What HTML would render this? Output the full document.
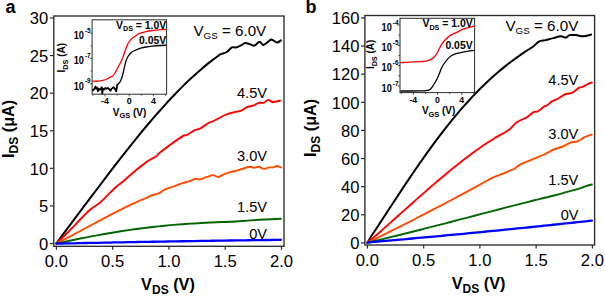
<!DOCTYPE html><html><head><meta charset="utf-8"><style>html,body{margin:0;padding:0;background:#fff;overflow:hidden}svg{display:block}text{font-family:"Liberation Sans", sans-serif;fill:#000}</style></head><body>
<svg width="605" height="296" viewBox="0 0 605 296">
<rect width="605" height="296" fill="#fff"/>
<rect x="53.8" y="16.0" width="230.2" height="230.3" fill="none" stroke="#2a2a2a" stroke-width="1.35"/>
<line x1="49.9" y1="243.5" x2="53.8" y2="243.5" stroke="#2a2a2a" stroke-width="1.2"/>
<text x="48.3" y="249.8" font-size="16.6" text-anchor="end" font-weight="normal" >0</text>
<line x1="49.9" y1="205.915" x2="53.8" y2="205.915" stroke="#2a2a2a" stroke-width="1.2"/>
<text x="48.3" y="212.215" font-size="16.6" text-anchor="end" font-weight="normal" >5</text>
<line x1="49.9" y1="168.32999999999998" x2="53.8" y2="168.32999999999998" stroke="#2a2a2a" stroke-width="1.2"/>
<text x="48.3" y="174.63" font-size="16.6" text-anchor="end" font-weight="normal" >10</text>
<line x1="49.9" y1="130.745" x2="53.8" y2="130.745" stroke="#2a2a2a" stroke-width="1.2"/>
<text x="48.3" y="137.04500000000002" font-size="16.6" text-anchor="end" font-weight="normal" >15</text>
<line x1="49.9" y1="93.16" x2="53.8" y2="93.16" stroke="#2a2a2a" stroke-width="1.2"/>
<text x="48.3" y="99.46" font-size="16.6" text-anchor="end" font-weight="normal" >20</text>
<line x1="49.9" y1="55.57499999999999" x2="53.8" y2="55.57499999999999" stroke="#2a2a2a" stroke-width="1.2"/>
<text x="48.3" y="61.874999999999986" font-size="16.6" text-anchor="end" font-weight="normal" >25</text>
<line x1="49.9" y1="17.98999999999998" x2="53.8" y2="17.98999999999998" stroke="#2a2a2a" stroke-width="1.2"/>
<text x="48.3" y="24.28999999999998" font-size="16.6" text-anchor="end" font-weight="normal" >30</text>
<line x1="56.4" y1="246.3" x2="56.4" y2="249.8" stroke="#2a2a2a" stroke-width="1.2"/>
<text x="56.4" y="266.6" font-size="16.6" text-anchor="middle" font-weight="normal" >0.0</text>
<line x1="112.6625" y1="246.3" x2="112.6625" y2="249.8" stroke="#2a2a2a" stroke-width="1.2"/>
<text x="112.6625" y="266.6" font-size="16.6" text-anchor="middle" font-weight="normal" >0.5</text>
<line x1="168.925" y1="246.3" x2="168.925" y2="249.8" stroke="#2a2a2a" stroke-width="1.2"/>
<text x="168.925" y="266.6" font-size="16.6" text-anchor="middle" font-weight="normal" >1.0</text>
<line x1="225.18750000000003" y1="246.3" x2="225.18750000000003" y2="249.8" stroke="#2a2a2a" stroke-width="1.2"/>
<text x="225.18750000000003" y="266.6" font-size="16.6" text-anchor="middle" font-weight="normal" >1.5</text>
<line x1="281.45" y1="246.3" x2="281.45" y2="249.8" stroke="#2a2a2a" stroke-width="1.2"/>
<text x="281.45" y="266.6" font-size="16.6" text-anchor="middle" font-weight="normal" >2.0</text>
<text x="168" y="290" font-size="16.3" font-weight="bold" text-anchor="middle">V<tspan font-size="12" dy="3.6">DS</tspan><tspan dy="-3.6"> (V)</tspan></text>
<text transform="translate(13.75,158) rotate(-90)" font-size="16.3" font-weight="bold" text-anchor="start">I<tspan font-size="12" dy="4.3">DS</tspan><tspan dy="-4.3"> (μA)</tspan></text>
<text x="5.6" y="13.4" font-size="18" text-anchor="start" font-weight="bold" >a</text>
<path d="M56.40,243.50 C57.40,242.11 60.40,237.87 62.40,235.15 C64.40,232.44 66.40,229.85 68.40,227.19 C70.40,224.53 72.40,221.87 74.40,219.20 C76.40,216.53 78.40,213.86 80.40,211.19 C82.40,208.53 84.40,205.86 86.40,203.19 C88.40,200.52 90.40,197.86 92.40,195.20 C94.40,192.54 96.40,189.88 98.40,187.24 C100.40,184.59 102.40,181.95 104.40,179.32 C106.40,176.69 108.40,174.06 110.40,171.45 C112.40,168.84 114.40,166.24 116.40,163.66 C118.40,161.08 120.40,158.51 122.40,155.95 C124.40,153.40 126.40,150.86 128.40,148.34 C130.40,145.83 132.40,143.33 134.40,140.85 C136.40,138.37 138.40,135.91 140.40,133.48 C142.40,131.05 144.40,128.64 146.40,126.26 C148.40,123.87 150.40,121.51 152.40,119.18 C154.40,116.86 156.40,114.55 158.40,112.28 C160.40,110.01 162.40,107.77 164.40,105.57 C166.40,103.36 168.40,101.18 170.40,99.05 C172.40,96.91 174.40,94.80 176.40,92.74 C178.40,90.67 180.40,88.65 182.40,86.66 C184.40,84.67 186.40,82.72 188.40,80.82 C190.40,78.91 192.40,77.05 194.40,75.23 C196.40,73.41 198.40,71.64 200.40,69.91 C202.40,68.19 204.40,66.51 206.40,64.88 C208.40,63.25 210.40,61.67 212.40,60.14 C214.40,58.61 217.02,56.72 218.40,55.72 C219.78,54.71 219.30,54.72 220.70,54.10 C222.10,53.48 224.93,53.12 226.80,52.00 C228.67,50.88 230.38,48.17 231.90,47.40 C233.42,46.63 234.45,47.70 235.90,47.40 C237.35,47.10 239.05,46.32 240.60,45.60 C242.15,44.88 243.67,43.35 245.20,43.10 C246.73,42.85 248.28,43.68 249.80,44.10 C251.32,44.52 252.67,45.98 254.30,45.60 C255.93,45.22 258.08,41.92 259.60,41.80 C261.12,41.68 261.62,45.20 263.40,44.90 C265.18,44.60 268.77,40.82 270.30,40.00 C271.83,39.18 271.47,39.57 272.60,40.00 C273.73,40.43 275.72,42.55 277.10,42.60 C278.48,42.65 280.27,40.68 280.90,40.30" fill="none" stroke="#000000" stroke-width="2.0" stroke-linejoin="round" stroke-linecap="round"/>
<path d="M56.40,243.50 C58.37,241.58 62.87,237.37 68.20,232.00 C73.53,226.63 83.10,216.18 88.40,211.30 C93.70,206.42 96.67,205.52 100.00,202.70 C103.33,199.88 105.53,197.18 108.40,194.40 C111.27,191.62 115.18,187.80 117.20,186.00 C119.22,184.20 117.28,186.30 120.50,183.60 C123.72,180.90 132.42,173.18 136.50,169.80 C140.58,166.42 142.95,164.85 145.00,163.30 C147.05,161.75 146.83,161.72 148.80,160.50 C150.77,159.28 154.93,157.33 156.80,156.00 C158.67,154.67 155.75,155.77 160.00,152.50 C164.25,149.23 177.88,139.28 182.30,136.40 C186.72,133.52 184.48,136.20 186.50,135.20 C188.52,134.20 192.07,131.55 194.40,130.40 C196.73,129.25 198.02,129.62 200.50,128.30 C202.98,126.98 207.35,123.62 209.30,122.50 C211.25,121.38 209.35,122.93 212.20,121.60 C215.05,120.27 222.68,116.08 226.40,114.50 C230.12,112.92 232.13,112.70 234.50,112.10 C236.87,111.50 238.58,111.68 240.60,110.90 C242.62,110.12 244.40,108.32 246.60,107.40 C248.80,106.48 251.77,106.17 253.80,105.40 C255.83,104.63 257.12,103.23 258.80,102.80 C260.48,102.37 262.37,103.28 263.90,102.80 C265.43,102.32 266.48,100.03 268.00,99.90 C269.52,99.77 270.98,101.87 273.00,102.00 C275.02,102.13 278.92,100.92 280.10,100.70" fill="none" stroke="#ff0000" stroke-width="1.9" stroke-linejoin="round" stroke-linecap="round"/>
<path d="M56.40,243.50 C57.40,243.00 60.40,241.50 62.40,240.48 C64.40,239.46 66.40,238.42 68.40,237.38 C70.40,236.33 72.40,235.27 74.40,234.21 C76.40,233.15 78.40,232.08 80.40,231.01 C82.40,229.93 84.40,228.85 86.40,227.77 C88.40,226.70 90.40,225.61 92.40,224.53 C94.40,223.46 96.40,222.38 98.40,221.30 C100.40,220.23 102.40,219.16 104.40,218.10 C106.40,217.04 108.40,215.98 110.40,214.94 C112.40,213.89 114.40,212.86 116.40,211.84 C118.40,210.82 120.40,209.81 122.40,208.82 C124.40,207.82 126.40,206.85 128.40,205.89 C130.40,204.93 132.40,203.99 134.40,203.08 C136.40,202.16 138.40,201.26 140.40,200.39 C142.40,199.52 145.12,198.39 146.40,197.86 C147.68,197.32 147.47,197.49 148.10,197.17 C148.73,196.84 148.37,196.56 150.20,195.90 C152.03,195.24 156.60,194.28 159.10,193.20 C161.60,192.12 162.67,190.58 165.20,189.40 C167.73,188.22 171.52,187.10 174.30,186.10 C177.08,185.10 179.37,184.23 181.90,183.40 C184.43,182.57 187.22,181.87 189.50,181.10 C191.78,180.33 193.82,179.08 195.60,178.80 C197.38,178.52 198.55,179.65 200.20,179.40 C201.85,179.15 204.18,177.77 205.50,177.30 C206.82,176.83 206.82,176.97 208.10,176.60 C209.38,176.23 211.50,175.03 213.20,175.10 C214.90,175.17 216.45,177.17 218.30,177.00 C220.15,176.83 222.28,174.92 224.30,174.10 C226.32,173.28 228.03,172.77 230.40,172.10 C232.77,171.43 235.28,170.98 238.50,170.10 C241.72,169.22 247.15,167.18 249.70,166.80 C252.25,166.42 252.28,167.80 253.80,167.80 C255.32,167.80 257.12,166.62 258.80,166.80 C260.48,166.98 262.20,168.80 263.90,168.90 C265.60,169.00 267.48,167.65 269.00,167.40 C270.52,167.15 271.65,167.63 273.00,167.40 C274.35,167.17 275.75,166.00 277.10,166.00 C278.45,166.00 280.43,167.17 281.10,167.40" fill="none" stroke="#ff4c00" stroke-width="1.9" stroke-linejoin="round" stroke-linecap="round"/>
<path d="M56.40,243.50 C57.40,243.31 60.40,242.74 62.40,242.33 C64.40,241.92 66.40,241.46 68.40,241.03 C70.40,240.60 72.40,240.18 74.40,239.76 C76.40,239.35 78.40,238.94 80.40,238.53 C82.40,238.13 84.40,237.73 86.40,237.34 C88.40,236.95 90.40,236.56 92.40,236.19 C94.40,235.81 96.40,235.44 98.40,235.07 C100.40,234.71 102.40,234.35 104.40,234.00 C106.40,233.64 108.40,233.30 110.40,232.96 C112.40,232.63 114.40,232.30 116.40,231.97 C118.40,231.65 120.40,231.33 122.40,231.03 C124.40,230.72 126.40,230.42 128.40,230.12 C130.40,229.83 132.40,229.55 134.40,229.27 C136.40,228.99 138.40,228.72 140.40,228.46 C142.40,228.20 144.40,227.94 146.40,227.70 C148.40,227.45 150.40,227.21 152.40,226.98 C154.40,226.75 156.40,226.53 158.40,226.32 C160.40,226.11 162.40,225.90 164.40,225.71 C166.40,225.51 168.40,225.33 170.40,225.15 C172.40,224.97 174.40,224.80 176.40,224.64 C178.40,224.48 180.40,224.33 182.40,224.19 C184.40,224.04 186.40,223.91 188.40,223.79 C190.40,223.66 193.02,223.52 194.40,223.44 C195.78,223.37 193.10,223.54 196.70,223.33 C200.30,223.12 210.42,222.45 216.00,222.20 C221.58,221.95 224.45,222.10 230.20,221.80 C235.95,221.50 244.70,220.78 250.50,220.40 C256.30,220.02 259.93,219.77 265.00,219.50 C270.07,219.23 278.25,218.92 280.90,218.80" fill="none" stroke="#006400" stroke-width="1.9" stroke-linejoin="round" stroke-linecap="round"/>
<path d="M56.40,243.50 C57.40,243.51 60.40,243.56 62.40,243.54 C64.40,243.53 66.40,243.45 68.40,243.41 C70.40,243.37 72.40,243.32 74.40,243.28 C76.40,243.24 78.40,243.19 80.40,243.15 C82.40,243.11 84.40,243.07 86.40,243.02 C88.40,242.98 90.40,242.94 92.40,242.90 C94.40,242.86 96.40,242.82 98.40,242.78 C100.40,242.73 102.40,242.69 104.40,242.65 C106.40,242.61 108.40,242.57 110.40,242.53 C112.40,242.49 114.40,242.45 116.40,242.41 C118.40,242.38 120.40,242.34 122.40,242.30 C124.40,242.26 126.40,242.22 128.40,242.18 C130.40,242.15 132.40,242.11 134.40,242.07 C136.40,242.03 138.40,242.00 140.40,241.96 C142.40,241.92 144.40,241.89 146.40,241.85 C148.40,241.81 150.40,241.78 152.40,241.74 C154.40,241.71 156.40,241.67 158.40,241.63 C160.40,241.60 162.40,241.56 164.40,241.53 C166.40,241.50 168.40,241.46 170.40,241.43 C172.40,241.39 174.40,241.36 176.40,241.33 C178.40,241.29 180.40,241.26 182.40,241.23 C184.40,241.19 186.40,241.16 188.40,241.13 C190.40,241.10 192.40,241.07 194.40,241.03 C196.40,241.00 198.40,240.97 200.40,240.94 C202.40,240.91 204.40,240.88 206.40,240.85 C208.40,240.82 210.40,240.79 212.40,240.76 C214.40,240.73 216.40,240.70 218.40,240.67 C220.40,240.64 222.40,240.61 224.40,240.58 C226.40,240.55 228.40,240.52 230.40,240.50 C232.40,240.47 234.40,240.44 236.40,240.41 C238.40,240.39 240.40,240.36 242.40,240.33 C244.40,240.30 246.40,240.28 248.40,240.25 C250.40,240.23 252.40,240.20 254.40,240.17 C256.40,240.15 258.40,240.12 260.40,240.10 C262.40,240.07 264.40,240.05 266.40,240.02 C268.40,240.00 270.40,239.97 272.40,239.95 C274.40,239.92 276.98,239.89 278.40,239.88 C279.82,239.86 280.48,239.85 280.90,239.85" fill="none" stroke="#0000ff" stroke-width="2.3" stroke-linejoin="round" stroke-linecap="round"/>
<text x="267" y="98" font-size="14.6" text-anchor="end">4.5V</text>
<text x="267" y="161.1" font-size="14.6" text-anchor="end">3.0V</text>
<text x="267" y="211.8" font-size="14.6" text-anchor="end">1.5V</text>
<text x="267" y="239" font-size="14.6" text-anchor="end">0V</text>
<rect x="364.9" y="15.5" width="229.70000000000005" height="229.5" fill="none" stroke="#2a2a2a" stroke-width="1.35"/>
<line x1="361.0" y1="242.9" x2="364.9" y2="242.9" stroke="#2a2a2a" stroke-width="1.2"/>
<text x="359.4" y="249.20000000000002" font-size="16.6" text-anchor="end" font-weight="normal" >0</text>
<line x1="361.0" y1="214.78" x2="364.9" y2="214.78" stroke="#2a2a2a" stroke-width="1.2"/>
<text x="359.4" y="221.08" font-size="16.6" text-anchor="end" font-weight="normal" >20</text>
<line x1="361.0" y1="186.66000000000003" x2="364.9" y2="186.66000000000003" stroke="#2a2a2a" stroke-width="1.2"/>
<text x="359.4" y="192.96000000000004" font-size="16.6" text-anchor="end" font-weight="normal" >40</text>
<line x1="361.0" y1="158.54000000000002" x2="364.9" y2="158.54000000000002" stroke="#2a2a2a" stroke-width="1.2"/>
<text x="359.4" y="164.84000000000003" font-size="16.6" text-anchor="end" font-weight="normal" >60</text>
<line x1="361.0" y1="130.42000000000002" x2="364.9" y2="130.42000000000002" stroke="#2a2a2a" stroke-width="1.2"/>
<text x="359.4" y="136.72000000000003" font-size="16.6" text-anchor="end" font-weight="normal" >80</text>
<line x1="361.0" y1="102.30000000000001" x2="364.9" y2="102.30000000000001" stroke="#2a2a2a" stroke-width="1.2"/>
<text x="359.4" y="108.60000000000001" font-size="16.6" text-anchor="end" font-weight="normal" >100</text>
<line x1="361.0" y1="74.18" x2="364.9" y2="74.18" stroke="#2a2a2a" stroke-width="1.2"/>
<text x="359.4" y="80.48" font-size="16.6" text-anchor="end" font-weight="normal" >120</text>
<line x1="361.0" y1="46.06000000000003" x2="364.9" y2="46.06000000000003" stroke="#2a2a2a" stroke-width="1.2"/>
<text x="359.4" y="52.36000000000003" font-size="16.6" text-anchor="end" font-weight="normal" >140</text>
<line x1="361.0" y1="17.940000000000026" x2="364.9" y2="17.940000000000026" stroke="#2a2a2a" stroke-width="1.2"/>
<text x="359.4" y="24.240000000000027" font-size="16.6" text-anchor="end" font-weight="normal" >160</text>
<line x1="367.4" y1="245.0" x2="367.4" y2="248.5" stroke="#2a2a2a" stroke-width="1.2"/>
<text x="367.4" y="266.4" font-size="16.6" text-anchor="middle" font-weight="normal" >0.0</text>
<line x1="423.65" y1="245.0" x2="423.65" y2="248.5" stroke="#2a2a2a" stroke-width="1.2"/>
<text x="423.65" y="266.4" font-size="16.6" text-anchor="middle" font-weight="normal" >0.5</text>
<line x1="479.9" y1="245.0" x2="479.9" y2="248.5" stroke="#2a2a2a" stroke-width="1.2"/>
<text x="479.9" y="266.4" font-size="16.6" text-anchor="middle" font-weight="normal" >1.0</text>
<line x1="536.15" y1="245.0" x2="536.15" y2="248.5" stroke="#2a2a2a" stroke-width="1.2"/>
<text x="536.15" y="266.4" font-size="16.6" text-anchor="middle" font-weight="normal" >1.5</text>
<line x1="592.4" y1="245.0" x2="592.4" y2="248.5" stroke="#2a2a2a" stroke-width="1.2"/>
<text x="592.4" y="266.4" font-size="16.6" text-anchor="middle" font-weight="normal" >2.0</text>
<text x="478.6" y="289" font-size="16.3" font-weight="bold" text-anchor="middle">V<tspan font-size="12" dy="3.6">DS</tspan><tspan dy="-3.6"> (V)</tspan></text>
<text transform="translate(315.75,157) rotate(-90)" font-size="16.3" font-weight="bold" text-anchor="start">I<tspan font-size="12" dy="4.3">DS</tspan><tspan dy="-4.3"> (μA)</tspan></text>
<text x="305.6" y="13.3" font-size="18" text-anchor="start" font-weight="bold" >b</text>
<path d="M367.40,242.60 C368.40,241.01 371.40,236.18 373.40,233.06 C375.40,229.95 377.40,226.96 379.40,223.90 C381.40,220.84 383.40,217.76 385.40,214.70 C387.40,211.64 389.40,208.57 391.40,205.51 C393.40,202.46 395.40,199.40 397.40,196.37 C399.40,193.34 401.40,190.31 403.40,187.31 C405.40,184.30 407.40,181.31 409.40,178.35 C411.40,175.39 413.40,172.45 415.40,169.54 C417.40,166.63 419.40,163.74 421.40,160.89 C423.40,158.04 425.40,155.22 427.40,152.43 C429.40,149.65 431.40,146.89 433.40,144.18 C435.40,141.47 437.40,138.79 439.40,136.16 C441.40,133.53 443.40,130.94 445.40,128.39 C447.40,125.84 449.40,123.33 451.40,120.88 C453.40,118.42 455.40,116.00 457.40,113.64 C459.40,111.27 461.40,108.95 463.40,106.68 C465.40,104.41 467.40,102.18 469.40,100.01 C471.40,97.83 473.40,95.71 475.40,93.63 C477.40,91.56 479.40,89.53 481.40,87.55 C483.40,85.57 485.40,83.64 487.40,81.76 C489.40,79.88 491.40,78.05 493.40,76.27 C495.40,74.49 497.40,72.75 499.40,71.06 C501.40,69.38 503.40,67.74 505.40,66.14 C507.40,64.54 509.40,62.99 511.40,61.48 C513.40,59.97 515.40,58.51 517.40,57.08 C519.40,55.66 521.40,54.27 523.40,52.92 C525.40,51.58 527.82,50.01 529.40,48.99 C530.98,47.97 531.27,48.06 532.90,46.79 C534.53,45.53 537.08,42.52 539.20,41.40 C541.32,40.28 543.27,40.65 545.60,40.10 C547.93,39.55 550.67,38.73 553.20,38.10 C555.73,37.47 558.70,36.38 560.80,36.30 C562.90,36.22 564.33,37.80 565.80,37.60 C567.27,37.40 567.92,35.52 569.60,35.10 C571.28,34.68 573.58,34.90 575.90,35.10 C578.22,35.30 580.97,36.38 583.50,36.30 C586.03,36.22 589.83,34.88 591.10,34.60" fill="none" stroke="#000000" stroke-width="2.0" stroke-linejoin="round" stroke-linecap="round"/>
<path d="M367.40,242.60 C368.40,241.79 371.40,239.41 373.40,237.72 C375.40,236.03 377.40,234.22 379.40,232.47 C381.40,230.71 383.40,228.94 385.40,227.16 C387.40,225.39 389.40,223.61 391.40,221.83 C393.40,220.05 395.40,218.26 397.40,216.47 C399.40,214.69 401.40,212.90 403.40,211.11 C405.40,209.32 407.40,207.53 409.40,205.75 C411.40,203.97 413.40,202.18 415.40,200.41 C417.40,198.63 419.40,196.86 421.40,195.10 C423.40,193.34 425.40,191.59 427.40,189.84 C429.40,188.10 431.40,186.36 433.40,184.64 C435.40,182.92 437.40,181.21 439.40,179.51 C441.40,177.82 443.40,176.14 445.40,174.48 C447.40,172.81 449.40,171.16 451.40,169.54 C453.40,167.91 455.40,166.30 457.40,164.71 C459.40,163.13 461.40,161.56 463.40,160.02 C465.40,158.48 467.40,156.96 469.40,155.46 C471.40,153.97 473.40,152.50 475.40,151.06 C477.40,149.63 479.40,148.21 481.40,146.83 C483.40,145.46 485.40,144.10 487.40,142.79 C489.40,141.47 491.77,139.97 493.40,138.94 C495.03,137.91 495.22,137.73 497.20,136.60 C499.18,135.48 503.17,133.47 505.30,132.20 C507.43,130.93 508.08,130.67 510.00,129.00 C511.92,127.33 513.98,124.17 516.80,122.20 C519.62,120.23 524.10,118.88 526.90,117.20 C529.70,115.52 531.77,113.08 533.60,112.10 C535.43,111.12 536.20,112.20 537.90,111.30 C539.60,110.40 542.25,107.70 543.80,106.70 C545.35,105.70 545.80,106.23 547.20,105.30 C548.60,104.37 550.65,102.08 552.20,101.10 C553.75,100.12 554.38,100.52 556.50,99.40 C558.62,98.28 562.80,95.38 564.90,94.40 C567.00,93.42 567.70,93.87 569.10,93.50 C570.50,93.13 571.60,93.18 573.30,92.20 C575.00,91.22 577.75,88.50 579.30,87.60 C580.85,86.70 580.92,87.50 582.60,86.80 C584.28,86.10 587.83,84.10 589.40,83.40 C590.97,82.70 591.57,82.73 592.00,82.60" fill="none" stroke="#ff0000" stroke-width="1.9" stroke-linejoin="round" stroke-linecap="round"/>
<path d="M367.40,242.60 C368.40,242.15 371.40,240.83 373.40,239.88 C375.40,238.93 377.40,237.90 379.40,236.91 C381.40,235.91 383.40,234.92 385.40,233.92 C387.40,232.92 389.40,231.92 391.40,230.92 C393.40,229.92 395.40,228.91 397.40,227.90 C399.40,226.90 401.40,225.89 403.40,224.87 C405.40,223.86 407.40,222.84 409.40,221.82 C411.40,220.81 413.40,219.78 415.40,218.76 C417.40,217.74 419.40,216.71 421.40,215.68 C423.40,214.65 425.40,213.62 427.40,212.58 C429.40,211.54 431.40,210.50 433.40,209.46 C435.40,208.42 437.40,207.37 439.40,206.32 C441.40,205.28 443.40,204.22 445.40,203.17 C447.40,202.11 449.40,201.05 451.40,199.99 C453.40,198.93 455.40,197.86 457.40,196.79 C459.40,195.72 461.40,194.65 463.40,193.58 C465.40,192.50 467.40,191.42 469.40,190.33 C471.40,189.25 473.40,188.16 475.40,187.07 C477.40,185.98 479.40,184.88 481.40,183.78 C483.40,182.69 485.95,181.28 487.40,180.47 C488.85,179.67 488.63,179.69 490.10,178.98 C491.57,178.27 492.88,177.60 496.20,176.20 C499.52,174.80 506.95,171.83 510.00,170.60 C513.05,169.37 512.73,169.85 514.50,168.80 C516.27,167.75 517.22,166.05 520.60,164.30 C523.98,162.55 531.07,159.85 534.80,158.30 C538.53,156.75 540.47,156.13 543.00,155.00 C545.53,153.87 548.22,152.42 550.00,151.50 C551.78,150.58 551.57,150.33 553.70,149.50 C555.83,148.67 560.02,147.63 562.80,146.50 C565.58,145.37 567.87,143.58 570.40,142.70 C572.93,141.82 575.72,142.08 578.00,141.20 C580.28,140.32 581.82,138.50 584.10,137.40 C586.38,136.30 590.43,135.07 591.70,134.60" fill="none" stroke="#ff4c00" stroke-width="1.9" stroke-linejoin="round" stroke-linecap="round"/>
<path d="M367.40,242.60 C368.40,242.38 371.40,241.74 373.40,241.28 C375.40,240.82 377.40,240.33 379.40,239.86 C381.40,239.38 383.40,238.90 385.40,238.41 C387.40,237.93 389.40,237.44 391.40,236.95 C393.40,236.47 395.40,235.97 397.40,235.48 C399.40,234.99 401.40,234.49 403.40,233.99 C405.40,233.50 407.40,233.00 409.40,232.49 C411.40,231.99 413.40,231.49 415.40,230.98 C417.40,230.48 419.40,229.97 421.40,229.46 C423.40,228.95 425.40,228.44 427.40,227.93 C429.40,227.42 431.40,226.91 433.40,226.39 C435.40,225.88 437.40,225.36 439.40,224.85 C441.40,224.33 443.40,223.81 445.40,223.30 C447.40,222.78 449.40,222.26 451.40,221.74 C453.40,221.22 455.40,220.70 457.40,220.18 C459.40,219.66 461.40,219.14 463.40,218.61 C465.40,218.09 467.40,217.57 469.40,217.05 C471.40,216.53 473.40,216.01 475.40,215.48 C477.40,214.96 479.40,214.44 481.40,213.92 C483.40,213.40 485.40,212.88 487.40,212.36 C489.40,211.84 491.40,211.32 493.40,210.80 C495.40,210.28 497.40,209.76 499.40,209.24 C501.40,208.72 503.40,208.20 505.40,207.69 C507.40,207.17 509.40,206.66 511.40,206.14 C513.40,205.63 515.40,205.12 517.40,204.60 C519.40,204.09 521.40,203.58 523.40,203.07 C525.40,202.56 527.40,202.06 529.40,201.55 C531.40,201.05 533.60,200.49 535.40,200.04 C537.20,199.59 537.77,199.43 540.20,198.84 C542.63,198.25 546.62,197.34 550.00,196.50 C553.38,195.66 557.17,194.68 560.50,193.80 C563.83,192.92 566.63,192.15 570.00,191.20 C573.37,190.25 578.03,188.93 580.70,188.10 C583.37,187.27 584.13,186.80 586.00,186.20 C587.87,185.60 590.92,184.78 591.90,184.50" fill="none" stroke="#006400" stroke-width="1.9" stroke-linejoin="round" stroke-linecap="round"/>
<path d="M367.40,242.60 C368.40,242.48 371.40,242.10 373.40,241.90 C375.40,241.69 377.40,241.55 379.40,241.38 C381.40,241.21 383.40,241.04 385.40,240.87 C387.40,240.69 389.40,240.52 391.40,240.34 C393.40,240.17 395.40,240.00 397.40,239.82 C399.40,239.64 401.40,239.47 403.40,239.29 C405.40,239.11 407.40,238.94 409.40,238.76 C411.40,238.58 413.40,238.40 415.40,238.22 C417.40,238.04 419.40,237.86 421.40,237.68 C423.40,237.50 425.40,237.32 427.40,237.13 C429.40,236.95 431.40,236.77 433.40,236.59 C435.40,236.40 437.40,236.22 439.40,236.03 C441.40,235.85 443.40,235.66 445.40,235.47 C447.40,235.29 449.40,235.10 451.40,234.91 C453.40,234.73 455.40,234.54 457.40,234.35 C459.40,234.16 461.40,233.97 463.40,233.78 C465.40,233.59 467.40,233.40 469.40,233.20 C471.40,233.01 473.40,232.82 475.40,232.63 C477.40,232.43 479.40,232.24 481.40,232.04 C483.40,231.85 485.40,231.65 487.40,231.46 C489.40,231.26 491.40,231.07 493.40,230.87 C495.40,230.67 497.40,230.47 499.40,230.27 C501.40,230.08 503.40,229.88 505.40,229.68 C507.40,229.48 509.40,229.28 511.40,229.07 C513.40,228.87 515.40,228.67 517.40,228.47 C519.40,228.27 521.40,228.06 523.40,227.86 C525.40,227.65 527.40,227.45 529.40,227.24 C531.40,227.04 533.40,226.83 535.40,226.62 C537.40,226.42 539.40,226.21 541.40,226.00 C543.40,225.79 545.40,225.59 547.40,225.38 C549.40,225.17 551.40,224.96 553.40,224.75 C555.40,224.53 557.40,224.32 559.40,224.11 C561.40,223.90 563.40,223.69 565.40,223.47 C567.40,223.26 569.40,223.04 571.40,222.83 C573.40,222.61 575.40,222.40 577.40,222.18 C579.40,221.97 581.40,221.75 583.40,221.53 C585.40,221.31 587.98,221.03 589.40,220.88 C590.82,220.72 591.48,220.65 591.90,220.60" fill="none" stroke="#0000ff" stroke-width="2.3" stroke-linejoin="round" stroke-linecap="round"/>
<text x="578.3" y="85.2" font-size="14.6" text-anchor="end">4.5V</text>
<text x="578.3" y="138.9" font-size="14.6" text-anchor="end">3.0V</text>
<text x="578.3" y="184.8" font-size="14.6" text-anchor="end">1.5V</text>
<text x="578.5" y="219.5" font-size="14.6" text-anchor="end">0V</text>
<text x="193.4" y="36.2" font-size="15.2">V<tspan font-size="9.8" dy="2.4">GS</tspan><tspan dy="-2.4"> = 6.0V</tspan></text>
<text x="578.3" y="31.25" font-size="15.2" text-anchor="end">V<tspan font-size="9.8" dy="2.4">GS</tspan><tspan dy="-2.4"> = 6.0V</tspan></text>
<rect x="92.1" y="19.8" width="74.5" height="74.4" fill="#fff" stroke="#2a2a2a" stroke-width="1"/>
<line x1="89.89999999999999" y1="33.1" x2="92.1" y2="33.1" stroke="#2a2a2a" stroke-width="0.8"/>
<text transform="translate(83.89999999999999,38.9) scale(0.87,1)" font-size="10.6" font-weight="bold" text-anchor="end">10</text>
<text x="84.89999999999999" y="32.7" font-size="6.4" font-weight="bold" text-anchor="start">-5</text>
<line x1="89.89999999999999" y1="58.4" x2="92.1" y2="58.4" stroke="#2a2a2a" stroke-width="0.8"/>
<text transform="translate(83.89999999999999,64.2) scale(0.87,1)" font-size="10.6" font-weight="bold" text-anchor="end">10</text>
<text x="84.89999999999999" y="58.0" font-size="6.4" font-weight="bold" text-anchor="start">-7</text>
<line x1="89.89999999999999" y1="83.75" x2="92.1" y2="83.75" stroke="#2a2a2a" stroke-width="0.8"/>
<text transform="translate(83.89999999999999,89.55) scale(0.87,1)" font-size="10.6" font-weight="bold" text-anchor="end">10</text>
<text x="84.89999999999999" y="83.35" font-size="6.4" font-weight="bold" text-anchor="start">-9</text>
<line x1="90.6" y1="45.75" x2="92.1" y2="45.75" stroke="#2a2a2a" stroke-width="0.8"/>
<line x1="90.6" y1="71.1" x2="92.1" y2="71.1" stroke="#2a2a2a" stroke-width="0.8"/>
<line x1="92.89999999999999" y1="94.2" x2="92.89999999999999" y2="95.7" stroke="#2a2a2a" stroke-width="0.8"/>
<line x1="104.99999999999999" y1="94.2" x2="104.99999999999999" y2="96.4" stroke="#2a2a2a" stroke-width="0.8"/>
<text x="104.99999999999999" y="104.2" font-size="8.8" font-weight="bold" text-anchor="middle">-4</text>
<line x1="117.1" y1="94.2" x2="117.1" y2="95.7" stroke="#2a2a2a" stroke-width="0.8"/>
<line x1="129.2" y1="94.2" x2="129.2" y2="96.4" stroke="#2a2a2a" stroke-width="0.8"/>
<text x="129.2" y="104.2" font-size="8.8" font-weight="bold" text-anchor="middle">0</text>
<line x1="141.29999999999998" y1="94.2" x2="141.29999999999998" y2="95.7" stroke="#2a2a2a" stroke-width="0.8"/>
<line x1="153.39999999999998" y1="94.2" x2="153.39999999999998" y2="96.4" stroke="#2a2a2a" stroke-width="0.8"/>
<text x="153.39999999999998" y="104.2" font-size="8.8" font-weight="bold" text-anchor="middle">4</text>
<line x1="165.5" y1="94.2" x2="165.5" y2="95.7" stroke="#2a2a2a" stroke-width="0.8"/>
<text x="112.8" y="116.0" font-size="10.0" font-weight="bold" text-anchor="start">V<tspan font-size="7.4" dy="2.4">GS</tspan><tspan dy="-2.4"> (V)</tspan></text>
<text transform="translate(64.8,57.7) rotate(-90)" font-size="10" font-weight="bold" text-anchor="middle">I<tspan font-size="7.2" dy="3.3">DS</tspan><tspan dy="-3.3"> (A)</tspan></text>
<path d="M92.60,81.10 C93.50,81.12 96.27,81.33 98.00,81.20 C99.73,81.07 101.50,80.67 103.00,80.30 C104.50,79.93 105.83,79.50 107.00,79.00 C108.17,78.50 109.12,77.77 110.00,77.30 C110.88,76.83 111.52,76.83 112.30,76.20 C113.08,75.57 113.95,74.58 114.70,73.50 C115.45,72.42 116.00,71.20 116.80,69.70 C117.60,68.20 118.52,66.47 119.50,64.50 C120.48,62.53 121.87,59.90 122.70,57.90 C123.53,55.90 123.80,54.48 124.50,52.50 C125.20,50.52 126.15,47.75 126.90,46.00 C127.65,44.25 128.15,43.27 129.00,42.00 C129.85,40.73 130.83,39.48 132.00,38.40 C133.17,37.32 134.73,36.33 136.00,35.50 C137.27,34.67 137.93,34.05 139.60,33.40 C141.27,32.75 143.85,32.08 146.00,31.60 C148.15,31.12 150.33,30.80 152.50,30.50 C154.67,30.20 156.75,30.00 159.00,29.80 C161.25,29.60 164.83,29.38 166.00,29.30" fill="none" stroke="#ff0000" stroke-width="1.3" stroke-linejoin="round" stroke-linecap="round"/>
<polyline points="92.80,90.30 93.60,89.60 94.60,88.60 95.50,86.60 96.40,88.90 97.30,87.60 97.90,91.30 98.70,88.90 99.90,89.70 100.80,88.40 101.70,87.20 102.30,93.60 102.90,88.60 104.00,89.60 105.20,88.00 106.50,88.80 107.80,88.00 109.60,89.50 110.40,90.80 111.80,88.60 113.50,87.20 114.80,88.60 116.20,91.30 117.30,84.60" fill="none" stroke="#000000" stroke-width="1.8" stroke-linejoin="round" stroke-linecap="round"/>
<path d="M117.40,84.80 C117.90,84.23 119.55,82.95 120.40,81.40 C121.25,79.85 121.83,77.87 122.50,75.50 C123.17,73.13 123.82,69.62 124.40,67.20 C124.98,64.78 125.45,62.70 126.00,61.00 C126.55,59.30 127.03,58.20 127.70,57.00 C128.37,55.80 129.28,54.63 130.00,53.80 C130.72,52.97 131.00,52.63 132.00,52.00 C133.00,51.37 134.55,50.63 136.00,50.00 C137.45,49.37 139.03,48.70 140.70,48.20 C142.37,47.70 144.03,47.35 146.00,47.00 C147.97,46.65 150.33,46.35 152.50,46.10 C154.67,45.85 156.75,45.65 159.00,45.50 C161.25,45.35 164.83,45.25 166.00,45.20" fill="none" stroke="#000000" stroke-width="1.3" stroke-linejoin="round" stroke-linecap="round"/>
<text x="166.2" y="28.8" font-size="10.4" font-weight="bold" text-anchor="end">V<tspan font-size="7.2" dy="2.6">DS</tspan><tspan dy="-2.6"> = 1.0V</tspan></text>
<text x="166.2" y="43.8" font-size="10.4" font-weight="bold" text-anchor="end">0.05V</text>
<rect x="400.0" y="18.3" width="74.60000000000002" height="74.3" fill="#fff" stroke="#2a2a2a" stroke-width="1"/>
<line x1="397.8" y1="25.1" x2="400.0" y2="25.1" stroke="#2a2a2a" stroke-width="0.8"/>
<text transform="translate(391.8,30.900000000000002) scale(0.87,1)" font-size="10.6" font-weight="bold" text-anchor="end">10</text>
<text x="392.8" y="24.700000000000003" font-size="6.4" font-weight="bold" text-anchor="start">-4</text>
<line x1="397.8" y1="45.4" x2="400.0" y2="45.4" stroke="#2a2a2a" stroke-width="0.8"/>
<text transform="translate(391.8,51.199999999999996) scale(0.87,1)" font-size="10.6" font-weight="bold" text-anchor="end">10</text>
<text x="392.8" y="45.0" font-size="6.4" font-weight="bold" text-anchor="start">-5</text>
<line x1="397.8" y1="65.6" x2="400.0" y2="65.6" stroke="#2a2a2a" stroke-width="0.8"/>
<text transform="translate(391.8,71.39999999999999) scale(0.87,1)" font-size="10.6" font-weight="bold" text-anchor="end">10</text>
<text x="392.8" y="65.19999999999999" font-size="6.4" font-weight="bold" text-anchor="start">-6</text>
<line x1="397.8" y1="85.9" x2="400.0" y2="85.9" stroke="#2a2a2a" stroke-width="0.8"/>
<text transform="translate(391.8,91.7) scale(0.87,1)" font-size="10.6" font-weight="bold" text-anchor="end">10</text>
<text x="392.8" y="85.5" font-size="6.4" font-weight="bold" text-anchor="start">-7</text>
<line x1="398.5" y1="35.25" x2="400.0" y2="35.25" stroke="#2a2a2a" stroke-width="0.8"/>
<line x1="398.5" y1="55.5" x2="400.0" y2="55.5" stroke="#2a2a2a" stroke-width="0.8"/>
<line x1="398.5" y1="75.75" x2="400.0" y2="75.75" stroke="#2a2a2a" stroke-width="0.8"/>
<line x1="401.26" y1="92.6" x2="401.26" y2="94.1" stroke="#2a2a2a" stroke-width="0.8"/>
<line x1="413.36" y1="92.6" x2="413.36" y2="94.8" stroke="#2a2a2a" stroke-width="0.8"/>
<text x="413.36" y="102.6" font-size="8.8" font-weight="bold" text-anchor="middle">-4</text>
<line x1="425.46" y1="92.6" x2="425.46" y2="94.1" stroke="#2a2a2a" stroke-width="0.8"/>
<line x1="437.56" y1="92.6" x2="437.56" y2="94.8" stroke="#2a2a2a" stroke-width="0.8"/>
<text x="437.56" y="102.6" font-size="8.8" font-weight="bold" text-anchor="middle">0</text>
<line x1="449.66" y1="92.6" x2="449.66" y2="94.1" stroke="#2a2a2a" stroke-width="0.8"/>
<line x1="461.76" y1="92.6" x2="461.76" y2="94.8" stroke="#2a2a2a" stroke-width="0.8"/>
<text x="461.76" y="102.6" font-size="8.8" font-weight="bold" text-anchor="middle">4</text>
<line x1="473.86" y1="92.6" x2="473.86" y2="94.1" stroke="#2a2a2a" stroke-width="0.8"/>
<text x="421.9" y="114.4" font-size="10.0" font-weight="bold" text-anchor="start">V<tspan font-size="7.4" dy="2.4">GS</tspan><tspan dy="-2.4"> (V)</tspan></text>
<text transform="translate(373.75,54.4) rotate(-90)" font-size="10" font-weight="bold" text-anchor="middle">I<tspan font-size="7.2" dy="3.3">DS</tspan><tspan dy="-3.3"> (A)</tspan></text>
<path d="M400.90,62.60 C402.42,62.53 406.82,62.37 410.00,62.20 C413.18,62.03 417.33,61.78 420.00,61.60 C422.67,61.42 423.87,61.63 426.00,61.10 C428.13,60.57 431.00,59.63 432.80,58.40 C434.60,57.17 435.45,55.83 436.80,53.70 C438.15,51.57 439.55,47.85 440.90,45.60 C442.25,43.35 443.33,41.90 444.90,40.20 C446.47,38.50 448.45,36.65 450.30,35.40 C452.15,34.15 453.87,33.73 456.00,32.70 C458.13,31.67 460.02,30.32 463.10,29.20 C466.18,28.08 472.60,26.53 474.50,26.00" fill="none" stroke="#ff0000" stroke-width="1.3" stroke-linejoin="round" stroke-linecap="round"/>
<path d="M400.90,91.00 C402.42,91.00 406.82,91.02 410.00,91.00 C413.18,90.98 417.33,90.97 420.00,90.90 C422.67,90.83 424.33,90.83 426.00,90.60 C427.67,90.37 428.75,90.43 430.00,89.50 C431.25,88.57 432.33,86.75 433.50,85.00 C434.67,83.25 435.95,81.08 437.00,79.00 C438.05,76.92 439.05,74.33 439.80,72.50 C440.55,70.67 440.72,69.58 441.50,68.00 C442.28,66.42 443.48,64.48 444.50,63.00 C445.52,61.52 446.52,60.27 447.60,59.10 C448.68,57.93 449.60,56.90 451.00,56.00 C452.40,55.10 453.83,54.40 456.00,53.70 C458.17,53.00 460.92,52.35 464.00,51.80 C467.08,51.25 472.75,50.63 474.50,50.40" fill="none" stroke="#000000" stroke-width="1.3" stroke-linejoin="round" stroke-linecap="round"/>
<text x="472.6" y="26.9" font-size="10.4" font-weight="bold" text-anchor="end">V<tspan font-size="7.2" dy="2.6">DS</tspan><tspan dy="-2.6"> = 1.0V</tspan></text>
<text x="472.6" y="48.9" font-size="10.4" font-weight="bold" text-anchor="end">0.05V</text>
</svg></body></html>
